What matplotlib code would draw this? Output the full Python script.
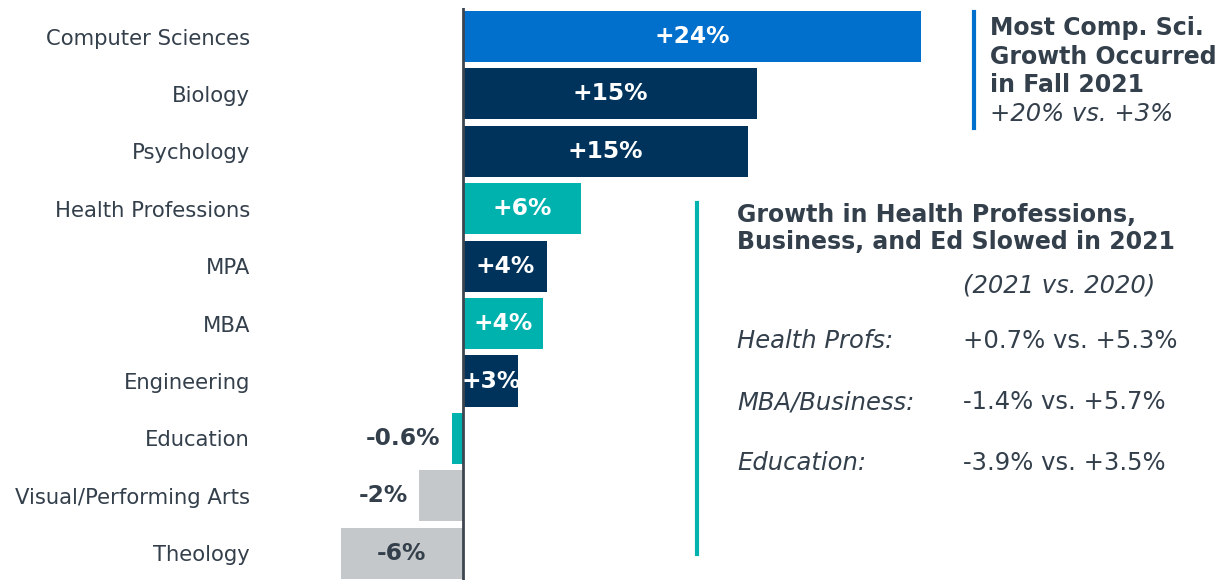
import matplotlib.pyplot as plt

categories = ["Computer Sciences", "Biology", "Psychology", "Health Professions", "MPA",
              "MBA", "Engineering", "Education", "Visual/Performing Arts", "Theology"]
growth = [24, 15.4, 14.9, 6.2, 4.4, 4.2, 2.9, -0.6, -2.3, -6.4]
bar_labels = ["+24%", "+15%", "+15%", "+6%", "+4%", "+4%", "+3%", "-0.6%", "-2%", "-6%"]

BLUE = "#0070cc"
NAVY = "#00335c"
TEAL = "#00b2ae"
GRAY = "#c5c8cb"
TEXT = "#333f4b"
bar_colors = [BLUE, NAVY, NAVY, TEAL, NAVY, TEAL, NAVY, TEAL, GRAY, GRAY]

side_rows = [("Health Profs:", "+0.7% vs. +5.3%"),
             ("MBA/Business:", "-1.4% vs. +5.7%"),
             ("Education:", "-3.9% vs. +3.5%")]

W, H = 1222, 580
fig = plt.figure(figsize=(W / 100, H / 100), dpi=100, facecolor="white")

# axes placed in pixel terms: zero line at x=463, 19.1 px per percentage point
left_px, right_px = 300, 960
ax = fig.add_axes([left_px / W, (H - 582) / H, (right_px - left_px) / W, (582 - 7.8) / H])
px_per = 19.1
ax.set_xlim((left_px - 463) / px_per, (right_px - 463) / px_per)
ax.set_ylim(len(categories) - 0.5, -0.5)

y = list(range(len(categories)))
ax.barh(y, growth, height=0.89, color=bar_colors, zorder=2)
ax.axvline(0, color="#3d4650", lw=2, zorder=3)

for s in ax.spines.values():
    s.set_visible(False)
ax.set_xticks([])
ax.set_yticks(y)
ax.set_yticklabels(categories, fontsize=15.2, color=TEXT)
ax.tick_params(axis="y", length=0, pad=36)

for i, (v, lab) in enumerate(zip(growth, bar_labels)):
    if v >= 2:
        ax.text(v / 2, i, lab, ha="center", va="center", color="white",
                fontsize=16.8, fontweight="bold", zorder=4)
    elif v > -5:
        ax.text(v - 0.6, i, lab, ha="right", va="center", color=TEXT,
                fontsize=16.8, fontweight="bold", zorder=4)
    else:
        ax.text(v / 2, i, lab, ha="center", va="center", color=TEXT,
                fontsize=16.8, fontweight="bold", zorder=4)

# side notes, in figure pixel coordinates
def fx(px):
    return px / W

def fy(py):
    return 1 - py / H

fig.add_artist(plt.Line2D([fx(974), fx(974)], [fy(12), fy(128)], color=BLUE, lw=3))
for j, line in enumerate(["Most Comp. Sci.", "Growth Occurred", "in Fall 2021"]):
    fig.text(fx(990), fy(28 + 28.7 * j), line, ha="left", va="center",
             fontsize=17, fontweight="bold", color=TEXT)
fig.text(fx(990), fy(114), "+20% vs. +3%", ha="left", va="center",
         fontsize=17.5, style="italic", color=TEXT)

fig.add_artist(plt.Line2D([fx(697), fx(697)], [fy(203), fy(554)], color=TEAL, lw=3))
fig.text(fx(737), fy(215), "Growth in Health Professions,", ha="left", va="center",
         fontsize=17, fontweight="bold", color=TEXT)
fig.text(fx(737), fy(242), "Business, and Ed Slowed in 2021", ha="left", va="center",
         fontsize=17, fontweight="bold", color=TEXT)
fig.text(fx(963), fy(285), "(2021 vs. 2020)", ha="left", va="center",
         fontsize=17.5, style="italic", color=TEXT)
for k, (name, val) in enumerate(side_rows):
    yy = 341 + 61 * k
    fig.text(fx(737), fy(yy), name, ha="left", va="center",
             fontsize=17.5, style="italic", color=TEXT)
    fig.text(fx(963), fy(yy), val, ha="left", va="center",
             fontsize=17.5, color=TEXT)

fig.savefig("out.png", dpi=100, facecolor="white")
